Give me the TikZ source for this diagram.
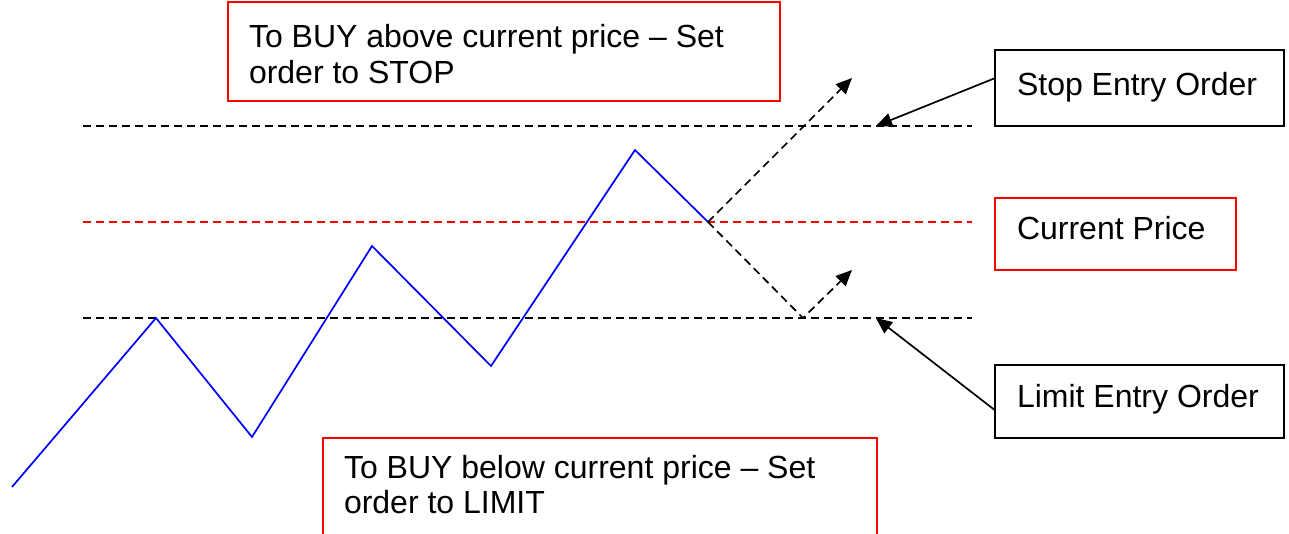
\documentclass[tikz,border=0pt]{standalone}
\usepackage{fontspec}
\setmainfont{Liberation Sans}
\usetikzlibrary{arrows.meta,calc}
\begin{document}
\begin{tikzpicture}[x=1pt,y=-1pt,
  every node/.style={font=\fontsize{32}{36}\selectfont, inner sep=0pt, outer sep=0pt},
  redbox/.style={draw=red, line width=2pt, fill=white, anchor=north west},
  blackbox/.style={draw=black, line width=2pt, fill=white, anchor=north west},
  txt/.style={anchor=base west},
  level/.style={dash pattern=on 8pt off 5pt, line width=1.7pt},
  move/.style={dash pattern=on 8pt off 5pt, line width=1.7pt, -{Triangle[length=16pt,width=14pt]}},
  pointer/.style={line width=1.7pt, -{Triangle[length=16pt,width=14pt]}},
  price/.style={blue, line width=1.7pt}]
\useasboundingbox (0,0) rectangle (1289,533);
\clip (0,0) rectangle (1289,533);
% level lines
\coordinate (sL) at (83,126); \coordinate (sR) at (972,126);
\coordinate (cL) at (83,222); \coordinate (cR) at (972,222);
\coordinate (lL) at (83,318); \coordinate (lR) at (972,318);
\draw[level] (sL) -- (sR);
\draw[level, red] (cL) -- (cR);
\draw[level] (lL) -- (lR);
% price path
\coordinate (p0) at (12,487);
\coordinate (p1) at (156,318);
\coordinate (p2) at (252,437);
\coordinate (p3) at (372,246);
\coordinate (p4) at (491,366);
\coordinate (p5) at (635,150);
\coordinate (p6) at (708,222);
\draw[price] (p0) -- (p1) -- (p2) -- (p3) -- (p4) -- (p5) -- (p6);
% future moves
\coordinate (up) at (852,78);
\coordinate (dip) at (803,318);
\coordinate (rebound) at (852,270);
\draw[move] (p6) -- (up);
\draw[move] (p6) -- (dip) -- (rebound);
% boxes
\node[redbox, minimum width=552pt, minimum height=99pt] (topbox) at (228,2) {};
\node[txt] (toptxt1) at (249,47) {To BUY above current price – Set};
\node[txt] (toptxt2) at (249,83) {order to STOP};
\node[redbox, minimum width=554pt, minimum height=110pt] (botbox) at (323,438) {};
\node[txt] (bottxt1) at (344,478) {To BUY below current price – Set};
\node[txt] (bottxt2) at (344,513) {order to LIMIT};
\node[blackbox, minimum width=289pt, minimum height=76pt] (stopbox) at (995,50) {};
\node[txt] (stoptxt) at (1017,95) {Stop Entry Order};
\node[redbox, minimum width=241pt, minimum height=72pt] (curbox) at (995,198) {};
\node[txt] (curtxt) at (1017,239) {Current Price};
\node[blackbox, minimum width=289pt, minimum height=73pt] (limbox) at (995,365) {};
\node[txt] (limtxt) at (1017,407) {Limit Entry Order};
% pointers
\coordinate (stoptip) at (876,126);
\coordinate (limtip) at (876,318);
\draw[pointer] ($(stopbox.north west)!0.37!(stopbox.south west)$) -- (stoptip);
\draw[pointer] ($(limbox.north west)!0.62!(limbox.south west)$) -- (limtip);
\end{tikzpicture}
\end{document}
